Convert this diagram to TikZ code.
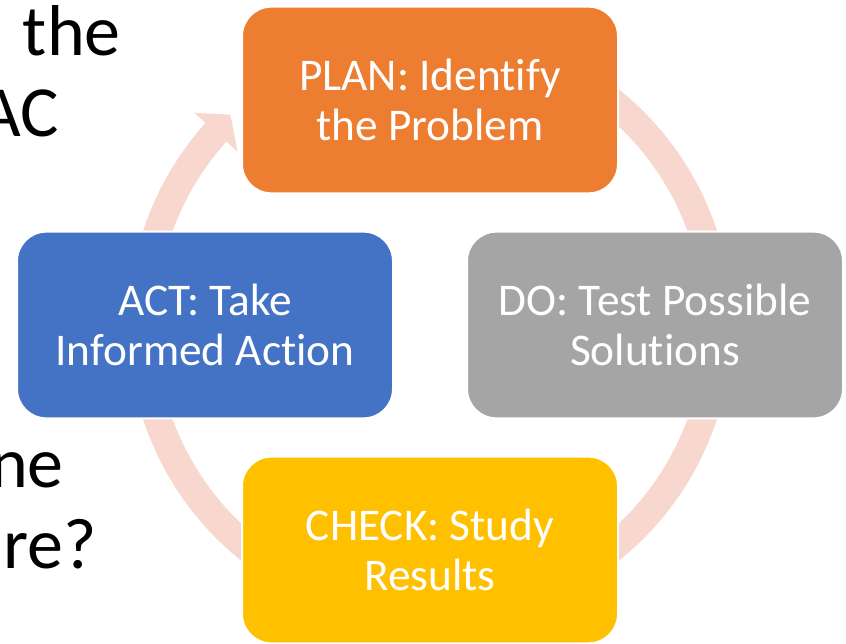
\documentclass[tikz,border=0pt]{standalone}
\usepackage{fontspec}
\setmainfont{Carlito}[Ligatures=NoCommon]
\definecolor{planorange}{RGB}{237,125,49}
\definecolor{dogray}{RGB}{165,165,165}
\definecolor{checkyellow}{RGB}{255,192,0}
\definecolor{actblue}{RGB}{68,114,196}
\definecolor{ringpink}{RGB}{248,216,206}
\tikzset{
  stage/.style={rectangle, rounded corners=22pt, draw=white, line width=1.5pt,
    minimum width=282pt, minimum height=140pt, inner sep=0pt,
    text=white, align=center, font=\fontsize{34}{37.5}\selectfont},
  slidetext/.style={anchor=base east, inner sep=0pt, font=\fontsize{54}{60}\selectfont},
  ring/.style={ringpink, line width=21pt}
}
\begin{document}
\begin{tikzpicture}[x=0.75pt,y=0.75pt]
  \useasboundingbox (0,0) rectangle (846,643);
  \clip (0,0) rectangle (846,643);
  % words of the slide behind
  \node[slidetext] (w1) at (121,587) {the};
  \node[slidetext] (w2) at (59,506) {AC};
  \node[slidetext] (w3) at (64,156) {ne};
  \node[slidetext] (w4) at (97,75) {re?};
  % cycle arrow
  \draw[ring, shift={(430,318)}] (90:288) arc[start angle=90, end angle=-222, radius=288];
  \fill[ringpink, shift={(430,318)}] (138:317) -- (133.5:290) -- (138:259) -- cycle;
  % stages
  \node[stage, fill=planorange] (plan) at (430,543) {PLAN: Identify\\the Problem};
  \node[stage, fill=dogray] (do) at (655,318) {DO: Test Possible\\Solutions};
  \node[stage, fill=checkyellow] (check) at (430,93) {CHECK: Study\\Results};
  \node[stage, fill=actblue] (act) at (205,318) {ACT: Take\\Informed Action};
\end{tikzpicture}
\end{document}
